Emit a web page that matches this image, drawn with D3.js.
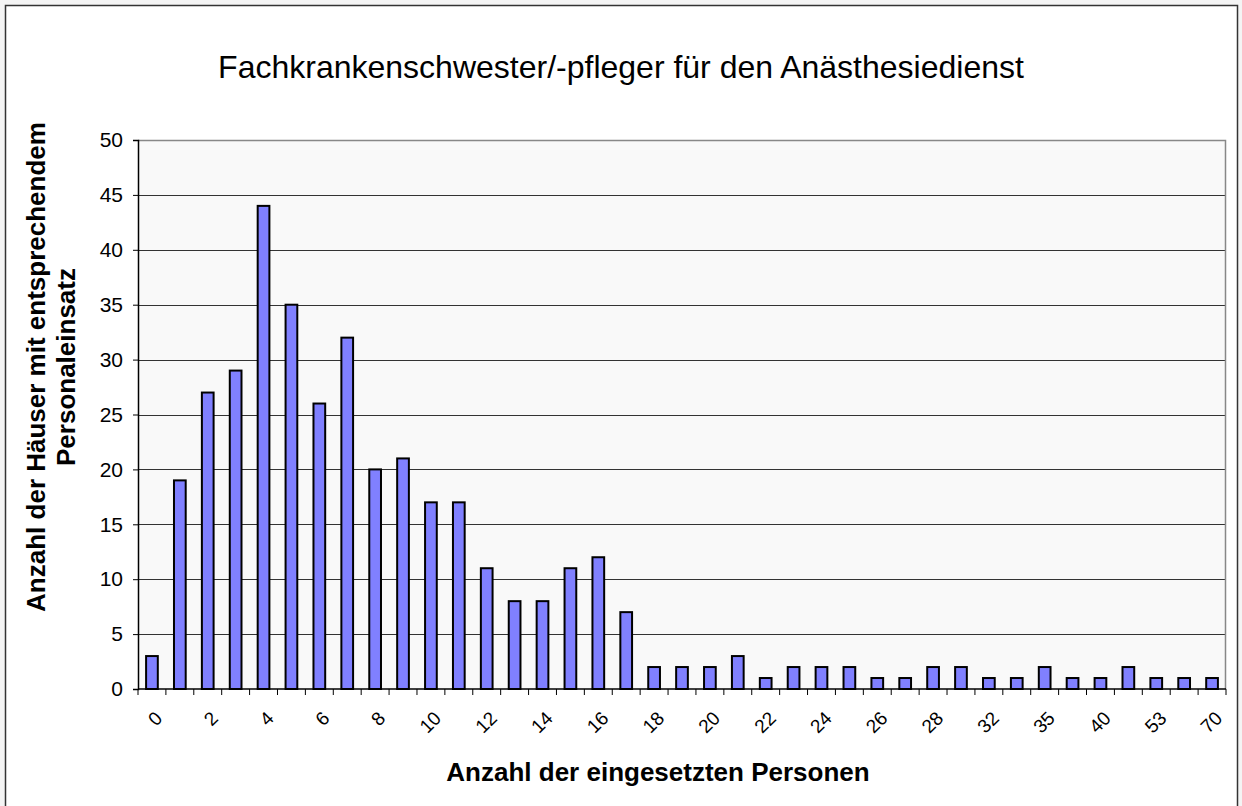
<!DOCTYPE html>
<html>
<head>
<meta charset="utf-8">
<script src="https://cdn.jsdelivr.net/npm/d3@7"></script>
<style>
  body { margin: 0; background: #ffffff; }
  svg { display: block; font-family: Arial, "Liberation Sans", sans-serif; }
</style>
</head>
<body>
<div id="chart"></div>
<script>
// categories (persons) and counts of hospitals
const categories = ["0","1","2","3","4","5","6","7","8","9","10","11","12","13","14","15","16","17","18","19",
    "20","21","22","23","24","25","26","27","28","30","32","33","35","38","40","45","53","60","70"];
const counts = [3,19,27,29,44,35,26,32,20,21,17,17,11,8,8,11,12,7,2,2,
    2,3,1,2,2,2,1,1,2,2,1,1,2,1,1,2,1,1,1];
const yTicks = [0,5,10,15,20,25,30,35,40,45,50];

const title = "Fachkrankenschwester/-pfleger für den Anästhesiedienst";
const xTitle = "Anzahl der eingesetzten Personen";
const yTitle = ["Anzahl der Häuser mit entsprechendem", "Personaleinsatz"];

const data = categories.map((c, i) => ({ cat: c, value: counts[i] }));

const width = 1242, height = 806;
const margin = { left: 138, right: 16, top: 140, bottom: 117 };
const plotW = width - margin.left - margin.right;
const plotH = height - margin.top - margin.bottom;

const svg = d3.select("#chart").append("svg")
    .attr("width", width)
    .attr("height", height);

// outer frame
svg.append("rect")
    .attr("x", 0).attr("y", 0).attr("width", width).attr("height", height)
    .attr("fill", "#f4f4f4");
svg.append("rect")
    .attr("x", 5.5).attr("y", 5.5).attr("width", 1232).attr("height", 810)
    .attr("fill", "#ffffff").attr("stroke", "#333").attr("stroke-width", 1.5);

const x = d3.scaleBand()
    .domain(categories)
    .range([0, plotW])
    .paddingInner(0.58)
    .paddingOuter(0.29);

const y = d3.scaleLinear()
    .domain([0, 50])
    .range([plotH, 0]);

const g = svg.append("g")
    .attr("transform", `translate(${margin.left},${margin.top})`);

// plot background
g.append("rect")
    .attr("width", plotW).attr("height", plotH)
    .attr("fill", "#f9f9f9");

// gridlines
g.append("g")
    .selectAll("line")
    .data(yTicks.filter(d => d > 0 && d < 50))
    .join("line")
    .attr("x1", 0).attr("x2", plotW)
    .attr("y1", d => Math.round(y(d)) + 0.5).attr("y2", d => Math.round(y(d)) + 0.5)
    .attr("stroke", "#333").attr("stroke-width", 1);

// top and right plot border (grey)
g.append("path")
    .attr("d", `M0,0.5H${plotW - 0.5}V${plotH}`)
    .attr("fill", "none").attr("stroke", "#888").attr("stroke-width", 1.5);

// bars
g.append("g")
    .selectAll("rect")
    .data(data)
    .join("rect")
    .attr("x", d => x(d.cat))
    .attr("y", d => y(d.value))
    .attr("width", x.bandwidth())
    .attr("height", d => plotH - y(d.value))
    .attr("fill", "#8080ff")
    .attr("stroke", "#000")
    .attr("stroke-width", 2);

// y axis
const yAxis = g.append("g")
    .call(d3.axisLeft(y).tickValues(yTicks).tickSize(5).tickPadding(10));
yAxis.select(".domain").attr("stroke", "#000").attr("stroke-width", 1.5);
yAxis.selectAll(".tick line").attr("stroke", "#000");
yAxis.selectAll("text")
    .attr("font-size", 21)
    .attr("font-family", "Arial, 'Liberation Sans', sans-serif")
    .attr("fill", "#000");

// x axis: ticks on band boundaries, labels every other band
const step = x.step();
const x0 = x(categories[0]) - x.paddingOuter() * step;
const boundaries = d3.range(categories.length + 1).map(i => x0 + i * step);
const xAxis = g.append("g").attr("transform", `translate(0,${plotH})`);
xAxis.append("line")
    .attr("x1", 0).attr("x2", plotW)
    .attr("stroke", "#000").attr("stroke-width", 1.5);
xAxis.selectAll(".tk")
    .data(boundaries)
    .join("line")
    .attr("class", "tk")
    .attr("x1", d => d).attr("x2", d => d)
    .attr("y1", 0).attr("y2", 6)
    .attr("stroke", "#000");
xAxis.selectAll(".lbl")
    .data(categories.filter((c, i) => i % 2 === 0))
    .join("text")
    .attr("class", "lbl")
    .attr("transform", d => `translate(${x(d) + x.bandwidth() / 2 + 2},${21}) rotate(-45)`)
    .attr("text-anchor", "end")
    .attr("dy", "0.7em")
    .attr("font-size", 19)
    .attr("fill", "#000")
    .text(d => d);

// titles
svg.append("text")
    .attr("x", 621).attr("y", 78)
    .attr("text-anchor", "middle")
    .attr("font-size", 32)
    .attr("fill", "#000")
    .text(title);

svg.append("text")
    .attr("x", 658).attr("y", 781)
    .attr("text-anchor", "middle")
    .attr("font-size", 26)
    .attr("font-weight", "bold")
    .attr("fill", "#000")
    .text(xTitle);

svg.append("g")
    .attr("transform", "translate(45,367) rotate(-90)")
    .selectAll("text")
    .data(yTitle)
    .join("text")
    .attr("x", 0)
    .attr("y", (d, i) => i * 30)
    .attr("text-anchor", "middle")
    .attr("font-size", 26)
    .attr("font-weight", "bold")
    .attr("fill", "#000")
    .text(d => d);
</script>
</body>
</html>
